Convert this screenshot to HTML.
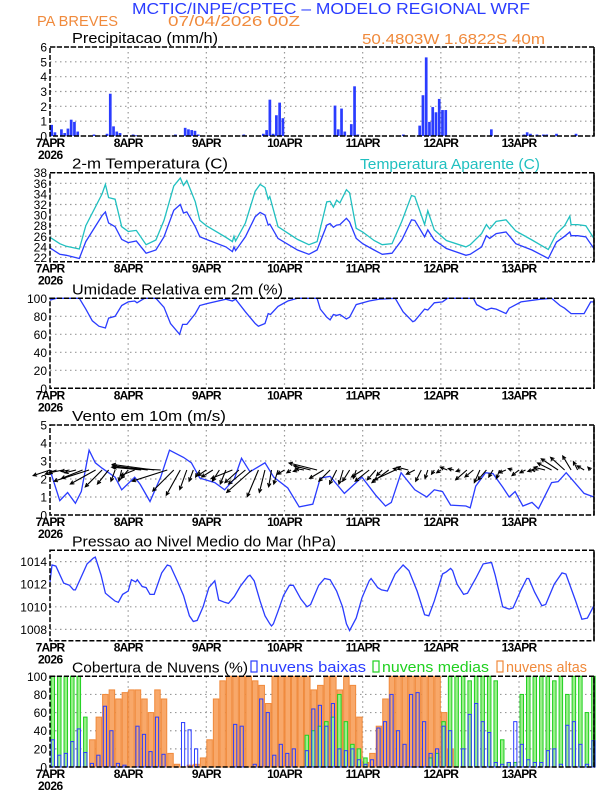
<!DOCTYPE html>
<html><head><meta charset="utf-8"><style>
body{margin:0;background:#fff}
svg{display:block;font-family:"Liberation Sans",sans-serif}
</style></head><body>
<svg id="c" width="612" height="792" viewBox="0 0 612 792" xmlns="http://www.w3.org/2000/svg">
<text x="132" y="14" textLength="398" lengthAdjust="spacingAndGlyphs" font-size="16" fill="#2a3cff">MCTIC/INPE/CPTEC – MODELO REGIONAL WRF</text>
<text x="37" y="26" textLength="81" lengthAdjust="spacingAndGlyphs" font-size="15" fill="#f08a3c">PA BREVES</text>
<text x="168" y="26" textLength="132" lengthAdjust="spacingAndGlyphs" font-size="15" fill="#f08a3c">07/04/2026 00Z</text>
<text x="362" y="44" textLength="183" lengthAdjust="spacingAndGlyphs" font-size="15" fill="#f08a3c">50.4803W 1.6822S 40m</text>
<g id="g"></g>
</svg>
<script>
const dateLabels=["7APR","8APR","9APR","10APR","11APR","12APR","13APR"];
const precipHours=[0,1,3,4,5,6,7,8,13,17,18,19,20,21,23,25,26,38,41,42,43,44,45,59,65,66,67,68,69,70,71,83,87,88,89,90,92,93,94,108,113,114,115,116,117,118,119,120,121,135,145,146,147,149,151,152,155,161];
const precipVals=[0.75,0.25,0.45,0.2,0.5,1.1,0.95,0.3,0.1,0.15,2.85,0.65,0.3,0.2,0.05,0.1,0.05,0.1,0.55,0.45,0.4,0.35,0.1,0.1,0.15,0.4,2.45,0.15,1.4,2.25,1.2,0.05,2.05,0.45,1.85,0.3,0.8,3.35,0.1,0.1,0.7,2.75,5.3,0.95,1.95,1.6,2.5,1.75,1.75,0.45,0.1,0.25,0.15,0.1,0.1,0.1,0.15,0.15];
const tempHours=[0,3,5,9,11,16,17,18,20,22,24,26.5,29.5,32.5,35,38,40,41,42,44.6,46,48,54,56,56.5,57,60,63,64.5,66,67,67.5,70,76,79.5,82,85,86,87,88,89,91,92,94,96,99.5,102,105,108,111,112,115,116,118,121.7,127.7,129,132.5,134,135,137,140,143,148,153,155.5,158,159.6,160,162,164.5,167];
const tempVals=[23.8,22.6,22.4,21.8,25,29.9,30.6,28.5,27.8,25.4,24.8,25.1,22.8,23.4,25.9,30.9,32,30.4,30.6,27.8,25.9,25.4,24,23.1,24,23.3,25.9,29.7,30.5,30,28.1,28.3,25.6,23.4,22.6,23.4,28.1,28.4,27.7,28.1,28.2,29.4,28.7,25.6,24.6,23.4,22.6,22.8,25.3,29.1,29.0,25.9,27.2,25.3,23.7,22.4,22.6,24,26.1,25.6,26.5,26.8,24.6,23.4,21.8,24.9,26.0,26.8,26.1,26.1,25.9,23.7];
const appVals=[25.8,24.6,24.1,23.6,28,34,35.8,33.3,33,27.8,26.9,27.1,24.4,25.3,29,35.5,37,35.6,36.5,32.5,29,28,25.8,25,26,25.1,28.5,34.5,35.8,35.2,33,33.5,27.8,25.4,24.4,25,32.5,32.6,31.5,32.8,32.3,34.8,34.2,27.5,26.8,25.2,24.4,24.6,28.8,33.7,33.5,28.2,30.8,27.2,25.2,24,24.4,26.5,28.2,27.4,28.8,29.1,27,25.3,23.5,26.5,28,29.8,28.2,28.2,28,25.6];
const rhHours=[0,2,9,11,13,15,17,18,20,22,24,26,26.7,29,32.5,35,37,39.8,40.7,42,44.6,46,48,54,56,57,60,63,64,66,67,67.7,70,73,76,82,83,85,86,87,88,89,91,92,94,98,101,106,108.4,111.4,112,115,116,118,120.5,122,130,131,134,135.5,137,140,141,144.6,150.6,154,156.6,158,160,164,166,167];
const rhVals=[98,100,100,88,75,69,67,78,80,92,96,97,95,100,100,90,72,60,71,71,83,92,94,99,97,99,85,72,69,72,83,82,91,97,100,100,88,79,76,82,81,82,77,79,93,97,99,100,85,74,75,88,87,95,96,100,100,93,87,89,88,83,89,96,99,100,92,89,83,83,96,96];
const windHours=[0,3,5.4,7.8,9.6,12,13.9,16,20,22,26,27.7,30.7,32.5,34,36.7,41,43.4,46,50.6,53.6,56.6,58.8,61.4,66,68.7,73,76.5,80.7,83,86,90.4,95.8,100,103,104.8,107.8,112,115.7,118,120.5,123,127.7,129,130.7,133.7,136,139,141,142.8,145.2,148,150,154,156,158.5,164,167];
const windVals=[2.5,0.8,1.25,0.65,1.3,3.6,2.9,2.6,2.1,1.4,2.1,1.7,0.75,1.5,2.1,3.6,3.2,2.9,2.05,1.8,1.4,2.0,3.15,2.4,2.9,2.1,1.5,0.45,0.6,2.05,2.15,1.2,2.1,1.1,0.5,0.7,2.35,1.4,1.0,1.4,1.3,0.55,0.5,0.4,1.6,2.35,2.3,1.55,1.0,1.3,0.5,0.7,0.35,1.8,1.85,2.35,1.2,1.0];
const windU=[-1.2,-0.8,-1.0,-0.6,-0.8,-1.5,-2.5,-1.8,-1.2,-0.8,-0.3,-0.2,-0.5,-1.0,-2.0,-2.5,-3.0,-3.5,-2.5,-1.5,-1.0,-0.5,-0.3,-0.3,-0.6,-0.8,-0.5,-0.4,-1.5,-1.0,-1.2,-1.8,-0.8,-0.4,-0.2,-0.3,-0.5,-0.3,-0.3,-0.6,-1.2,-2.0,-1.0,-0.8,-0.5,-0.3,-0.5,-0.2,-0.8,-1.0,-0.6,-0.4,-1.2,-1.5,-0.6,-0.8,-0.6,-0.4,-0.2,-0.2,-0.3,-0.5,-0.4,-0.3,-0.8,-0.6,-0.4,-0.6,-0.3,-0.2,-0.5,-0.3,-0.5,-0.4,-0.3,-0.5,-0.8,-1.0,-1.2,-1.0,-0.6,-0.3,-0.5,-0.2];
const windV=[-0.4,-0.3,-0.2,-0.1,-0.2,-0.6,-0.8,-1.0,-1.2,-1.0,-0.8,-0.8,-0.6,-0.4,0.2,0.3,0.4,0.2,-0.8,-1.5,-1.8,-1.4,-0.8,-0.5,-0.4,-0.5,-0.8,-1.0,-0.6,-0.9,-1.0,-1.6,-1.9,-1.6,-1.2,-1.0,-0.3,-0.2,-0.1,0.1,0.3,0.5,-0.6,-0.8,-1.0,-1.0,-0.8,-0.6,-0.5,-0.8,-0.7,-0.4,-0.9,-0.7,0.1,0.2,-0.3,-0.8,-0.6,-0.3,-0.2,0.2,0.1,-0.1,-0.7,-0.5,-0.9,-0.7,-0.5,-0.6,-0.2,0.1,-0.4,-0.2,-0.1,0,0.2,0.5,0.8,0.9,1.0,0.6,0.3,0.2];
const presHours=[0,0.6,1.8,4.2,6,7.2,7.8,11.4,13.3,13.9,15.7,17,18.7,20,21,22.3,24,25,26.3,26.8,28.3,29.5,30.7,32,34.3,36,37,39.2,41,42.8,44,45.2,47,48.8,50.6,51.8,53.6,54.8,56.6,58.4,60.8,61.4,62.7,64.5,66,67.5,68,68.6,70,71.7,73.5,74.7,77,78.9,80,82.5,84.3,86,88,89.8,91,92,94,95.8,98,98.6,100.6,101.8,103.6,106,108.4,110.2,112.7,115,116.3,118,120.5,121.7,123,123.6,125,127,128.2,130.7,133,135,135.6,136.7,139,141,142.2,144.6,146.4,147,148.8,151,152.2,154.8,157.2,158.4,161.4,163.3,165,167];
const presVals=[1012.2,1013.7,1013.6,1012.1,1011.9,1011.5,1011.5,1013.8,1014.3,1014.4,1012.8,1011.2,1010.8,1010.5,1010.4,1011.1,1011.4,1012.4,1012.2,1012.4,1011.8,1011.7,1011.1,1011.1,1013,1013.7,1013.6,1012.2,1011,1009.2,1008.7,1008.8,1010,1011.7,1012.3,1010.6,1010.4,1010.3,1010.9,1011.8,1012.7,1012.8,1012.3,1010.5,1009.2,1008.5,1008.3,1008.5,1009.6,1011,1011.9,1011.9,1010.7,1010,1010.2,1011.9,1012.5,1012.4,1011.4,1010,1008.5,1007.9,1009,1010.8,1012.3,1012.5,1011.7,1011.5,1011.4,1012.9,1013.7,1013.2,1011.4,1009.3,1009.2,1010.5,1012.9,1013.1,1013.4,1013.2,1012,1011.1,1011.2,1012.5,1013.8,1013.9,1013.9,1012.8,1010,1009.8,1009.9,1011.5,1012.5,1012.5,1011.3,1010.1,1010.2,1012,1013,1012.9,1010.5,1008.9,1009,1010.1];
const cloudLow=[30,13,15,28,42,16,4,13,67,40,4,2,0,45,36,17,55,14,0,0,49,41,20,0,0,0,0,0,47,45,0,3,75,60,13,25,15,20,0,18,64,68,45,70,20,18,20,8,3,8,43,50,80,40,25,80,82,50,15,20,45,40,0,20,58,70,50,38,5,3,5,50,25,8,5,5,18,20,3,46,50,25,3,29];
const cloudMid=[100,100,100,100,100,55,0,0,0,0,0,0,0,0,0,0,0,0,0,0,0,0,0,0,0,0,0,0,0,0,0,0,0,0,0,0,0,0,0,35,40,45,50,55,80,50,25,20,10,0,0,0,0,0,0,0,0,0,10,15,50,100,100,100,95,100,100,100,95,30,5,5,80,100,100,100,100,95,100,80,100,100,60,100];
const cloudHigh=[0,0,0,0,0,0,30,55,80,85,75,82,85,85,75,60,85,75,15,3,0,2,3,10,30,75,95,100,100,100,100,95,90,70,100,100,100,100,100,100,85,90,100,100,85,100,90,55,5,15,45,75,100,100,100,100,100,100,100,100,60,20,0,0,0,0,0,0,0,0,0,0,0,0,0,0,0,0,0,0,0,0,0,0];

const NS="http://www.w3.org/2000/svg";
const G=document.getElementById('g');
const X0=50,HPX=3.257;
const xh=h=>X0+h*HPX;
function el(tag,attrs,parent){const e=document.createElementNS(NS,tag);for(const k in attrs)e.setAttribute(k,attrs[k]);(parent||G).appendChild(e);return e;}
function panel(name,top,bot,vmin,vmax,ticks,title,tlen){
  const g=el('g',{});
  
  
  const y=v=>bot-(v-vmin)/(vmax-vmin)*(bot-top);
  ticks.forEach(t=>{
    const l=el('line',{x1:X0,x2:594,y1:y(t),y2:y(t),stroke:'#999','stroke-dasharray':'1.5,3.5','stroke-width':1.2},g);
    
    
    const tx=el('text',{x:X0-3,y:y(t)+4.5,'text-anchor':'end','font-size':12},g);tx.textContent=t;
    
    
  });
  dateLabels.forEach((d,i)=>{
    const xx=xh(i*24);
    if(i>0){const l=el('line',{x1:xx,x2:xx,y1:top,y2:bot,stroke:'#999','stroke-dasharray':'1.5,3.5','stroke-width':1.2},g);
      
      }
    const tx=el('text',{x:xx,y:bot+11,'text-anchor':'middle','font-size':12,'font-weight':'bold','letter-spacing':'-0.8'},g);tx.textContent=d;
    
    
  });
  const yr=el('text',{x:38,y:bot+23,'font-size':12,'font-weight':'bold','letter-spacing':'-0.5'},g);yr.textContent='2026';
  
  
  const tt=el('text',{x:72,y:top-4,'font-size':15,textLength:tlen,lengthAdjust:'spacingAndGlyphs'},g);tt.textContent=title;
  
  
  return {g,y,top,bot};
}
function frame(p,name){
  const r=el('rect',{x:X0,y:p.top,width:544,height:p.bot-p.top,fill:'none',stroke:'#000','stroke-width':1.5,'stroke-dasharray':'5,2'},p.g);
  
  
  const r2=el('line',{x1:594,x2:594,y1:p.top,y2:p.bot,stroke:'#000','stroke-width':1.5},p.g);
  
  
}
function line(p,hs,vs,color,name){
  const d=hs.map((h,i)=>(i?'L':'M')+xh(h).toFixed(1)+','+p.y(vs[i]).toFixed(1)).join('');
  const pa=el('path',{d,fill:'none',stroke:color,'stroke-width':1.3},p.g);
  
  
}
// Precip
const p1=panel('precip',47,136,0,6,[0,1,2,3,4,5,6],'Precipitacao (mm/h)',146);
precipHours.forEach((h,i)=>{
  const r=el('rect',{x:xh(h)+0.3,y:p1.y(precipVals[i]),width:2.7,height:p1.bot-p1.y(precipVals[i]),fill:'#2a3cff'},p1.g);
  
  
});
frame(p1,'precip');
// Temp
const p2=panel('temp',172.7,261.7,21.2,38,[22,24,26,28,30,32,34,36,38],'2-m Temperatura (C)',156);
const at=el('text',{x:360,y:169,'font-size':15,fill:'#20c0c0',textLength:180,lengthAdjust:'spacingAndGlyphs'},p2.g);at.textContent='Temperatura Aparente (C)';


line(p2,tempHours,appVals,'#20c0c0','apparent-temp-line');
line(p2,tempHours,tempVals,'#2a3cff','temp-line');
frame(p2,'temp');
// RH
const p3=panel('rh',298.3,388.3,0,100,[0,20,40,60,80,100],'Umidade Relativa em 2m (%)',211);
line(p3,rhHours,rhVals,'#2a3cff','rh-line');
frame(p3,'rh');
// Wind
const p4=panel('wind',425,515,0,5,[0,1,2,3,4,5],'Vento em 10m (m/s)',154);
line(p4,windHours,windVals,'#2a3cff','wind-speed-line');
windU.forEach((u,i)=>{
  const x1=xh(i*2),y1=p4.y(2.5),S=14;
  const x2=x1+u*S,y2=y1-windV[i]*S;
  const ang=Math.atan2(y2-y1,x2-x1);
  const a=el('path',{d:`M${x1},${y1}L${x2},${y2}M${x2-4*Math.cos(ang-0.45)},${y2-4*Math.sin(ang-0.45)}L${x2},${y2}L${x2-4*Math.cos(ang+0.45)},${y2-4*Math.sin(ang+0.45)}`,stroke:'#000','stroke-width':1.1,fill:'none'},p4.g);
  
  
});
frame(p4,'wind');
// Pressure
const p5=panel('pressure',550.3,640.7,1007,1015,[1008,1010,1012,1014],'Pressao ao Nivel Medio do Mar (hPa)',264);
line(p5,presHours,presVals,'#2a3cff','pressure-line');
frame(p5,'pressure');
// Clouds
const p6=panel('cloud',676.3,767,0,100,[0,20,40,60,80,100],'Cobertura de Nuvens (%)',176);
[['nuvens baixas','#2a3cff',251,106],['nuvens medias','#20d020',373,107],['nuvens altas','#f08a3c',497,81]].forEach(([t,c,x,w])=>{
  const b=el('rect',{x:x,y:661,width:6,height:11,fill:'none',stroke:c,'stroke-width':1.2},p6.g);
  
  
  const tx=el('text',{x:x+9,y:672,'font-size':15,fill:c,textLength:w,lengthAdjust:'spacingAndGlyphs'},p6.g);tx.textContent=t;
  
  
});
function cbars(vals,fill,stroke,name,off,w){
  vals.forEach((v,i)=>{
    if(v<=0)return;
    const r=el('rect',{x:xh(i*2)+off,y:p6.y(v),width:w,height:p6.bot-p6.y(v),fill,stroke,'stroke-width':1},p6.g);
    
    
  });
}
cbars(cloudHigh,'#f8a86a','#f08a3c','cloud-high-bar',0.5,5.5);
cbars(cloudMid,'#9af08a','#20d020','cloud-mid-bar',1,3.5);
cbars(cloudLow,'none','#2a3cff','cloud-low-bar',1.2,3.2);
frame(p6,'cloud');
</script>
</body></html>
